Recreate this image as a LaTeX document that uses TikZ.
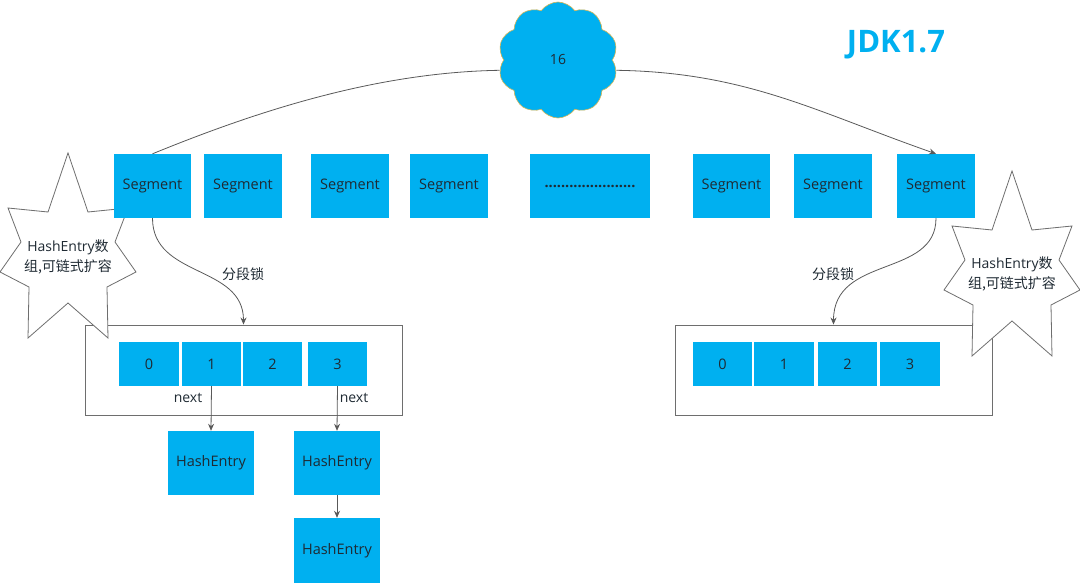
\documentclass[tikz,border=0pt]{standalone}
\usepackage{fontspec}
\setmainfont{Open Sans}
\newfontfamily\cjk{Noto Sans CJK SC}
\usetikzlibrary{shapes.symbols,arrows.meta}
\definecolor{cyanfill}{HTML}{00B0F0}
\definecolor{linegray}{HTML}{595959}
\definecolor{edgegray}{HTML}{6E6E6E}
\definecolor{txt}{HTML}{1F2A33}
\definecolor{cloudedge}{HTML}{D6B656}
\tikzset{
  cbox/.style={fill=cyanfill, draw=none, inner sep=0pt, text=txt, font=\fontsize{14.5}{16}\selectfont, minimum height=64pt},
  segbox/.style={cbox, minimum width=78pt},
  cellbox/.style={cbox, minimum width=59pt, minimum height=44pt},
  hebox/.style={cbox, minimum width=86pt},
  holder/.style={draw=edgegray, line width=0.9pt, fill=none, minimum width=317pt, minimum height=90pt, inner sep=0pt},
  starshape/.style={draw=edgegray, line width=0.8pt, fill=white},
  startext/.style={align=center, text=txt, font=\fontsize{14}{20}\selectfont},
  lbl/.style={text=txt, font=\fontsize{14}{16}\selectfont, inner sep=0pt},
  conn/.style={draw=linegray, line width=0.8pt},
  arr/.style={conn, -{Stealth[length=7pt,width=6pt]}}
}
\begin{document}
\begin{tikzpicture}[x=1pt,y=-1pt]
\useasboundingbox (0,0) rectangle (1080,583);

% holders
\node[holder] (lrect) at (243.5,370) {};
\node[holder] (rrect) at (833.5,370) {};

% left cells
\node[cellbox, minimum width=60pt] (l0) at (149,364) {0};
\node[cellbox] (l1) at (211.5,364) {1};
\node[cellbox] (l2) at (272.5,364) {2};
\node[cellbox] (l3) at (337.5,364) {3};
% right cells
\node[cellbox] (r0) at (722.5,364) {0};
\node[cellbox, minimum width=60pt] (r1) at (784,364) {1};
\node[cellbox] (r2) at (847.5,364) {2};
\node[cellbox, minimum width=60pt] (r3) at (910,364) {3};

% stars
\draw[starshape] (68,153) -- (88,212) -- (128,208) -- (115,242) -- (136,272) -- (107,287) -- (108,338) -- (68,303) -- (28,338) -- (29,287) -- (0,272) -- (21,242) -- (8,208) -- (48,212) -- cycle;
\node[startext] (lstar) at (68,257) {HashEntry{\cjk 数}\\{\cjk 组,可链式扩容}};
\begin{scope}[shift={(944,18)}]
\draw[starshape] (68,153) -- (88,212) -- (128,208) -- (115,242) -- (136,272) -- (107,287) -- (108,338) -- (68,303) -- (28,338) -- (29,287) -- (0,272) -- (21,242) -- (8,208) -- (48,212) -- cycle;
\end{scope}
\node[startext] (rstar) at (1012,274) {HashEntry{\cjk 数}\\{\cjk 组,可链式扩容}};

% segments
\node[segbox, minimum width=77pt] (s1) at (152.5,186) {Segment};
\node[segbox] (s2) at (243,186) {Segment};
\node[segbox] (s3) at (350,186) {Segment};
\node[segbox] (s4) at (449,186) {Segment};
\node[segbox, minimum width=120pt] (s5) at (590,186) {\textbf{......................}};
\node[segbox, minimum width=77pt] (s6) at (731.5,186) {Segment};
\node[segbox] (s7) at (833,186) {Segment};
\node[segbox] (s8) at (936,186) {Segment};

% hash entries
\node[hebox] (he1) at (211,463) {HashEntry};
\node[hebox] (he2) at (337,463) {HashEntry};
\node[hebox, minimum height=65pt] (he3) at (337,550.5) {HashEntry};

% cloud
\node[cloud, cloud puffs=10, cloud puff arc=110, aspect=1, fill=cyanfill, draw=cloudedge, line width=0.6pt, minimum width=120pt, minimum height=116pt, inner sep=0pt, text=txt, font=\fontsize{14}{16}\selectfont] (cloud) at (558,60) {16};

% title
\node[text=cyanfill, font=\fontsize{31}{34}\bfseries\selectfont, inner sep=0pt] (title) at (896,45) {JDK1.7};

% connectors
\draw[conn] (cloud.190) .. controls +(-120,2) and +(110,-45) .. (s1.north);
\draw[arr] (cloud.-10) .. controls +(130,2) and +(-120,-42) .. (s8.north);
\draw[arr] (s1.south) .. controls +(0,60) and +(0,-60) .. (lrect.north);
\draw[arr] (s8.south) .. controls +(0,60) and +(0,-70) .. (rrect.north);
\draw[arr] (l1.south) -- (he1.north);
\draw[arr] (l3.south) -- (he2.north);
\draw[arr] (he2.south) -- (he3.north);

% labels
\node[lbl] (lock1) at (243,274) {\cjk 分段锁};
\node[lbl] (lock2) at (833,274) {\cjk 分段锁};
\node[lbl] (next1) at (188,398) {next};
\node[lbl] (next2) at (354,398) {next};
\end{tikzpicture}
\end{document}
